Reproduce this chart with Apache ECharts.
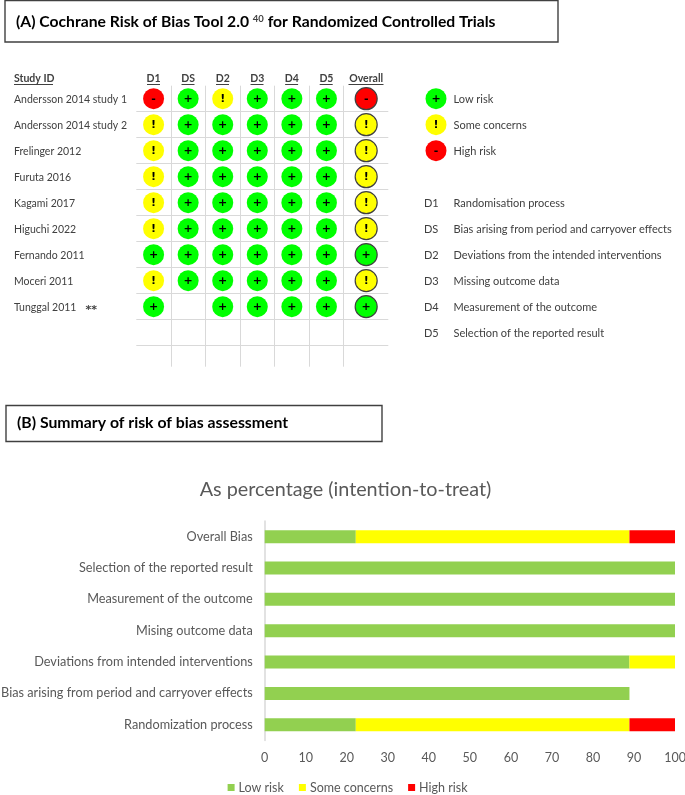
<!DOCTYPE html>
<html><head><meta charset="utf-8">
<style>html,body{margin:0;padding:0;background:#fff}#c{width:685px;height:795px}</style>
<script src="https://cdn.jsdelivr.net/npm/echarts@6/dist/echarts.min.js"></script>
</head><body><div id="c"></div>
<script>
const FONT = 'Lato';
// Panel A: traffic-light table
const studies = ['Andersson 2014 study 1','Andersson 2014 study 2','Frelinger 2012','Furuta 2016','Kagami 2017','Higuchi 2022','Fernando 2011','Moceri 2011','Tunggal 2011'];
const columns = ['D1','DS','D2','D3','D4','D5','Overall'];
const columnPos = [0,1,2,3,4,5,6.15];
const columnEdges = [0.5,1.5,2.5,3.5,4.5,5.5];
const rowEdges = [0.5,1.5,2.5,3.5,4.5,5.5,6.5,7.5,8.5,9.5];
const d1 = ['-','!','!','!','!','!','+','!','+'];
const ds = ['+','+','+','+','+','+','+','+',null];
const d2 = ['!','+','+','+','+','+','+','+','+'];
const d3 = ['+','+','+','+','+','+','+','+','+'];
const d4 = ['+','+','+','+','+','+','+','+','+'];
const d5 = ['+','+','+','+','+','+','+','+','+'];
const overall = ['-','!','!','!','!','!','+','!','+'];
const judgements = [d1,ds,d2,d3,d4,d5,overall];
const riskKey = [['+','Low risk'],['!','Some concerns'],['-','High risk']];
const domainKey = [['D1','Randomisation process'],['DS','Bias arising from period and carryover effects'],['D2','Deviations from the intended interventions'],['D3','Missing outcome data'],['D4','Measurement of the outcome'],['D5','Selection of the reported result']];
const riskColor = {'+':'#00FF00','!':'#FFFF00','-':'#FF0000'};

// Panel B: summary bars
const domains = ['Randomization process','Bias arising from period and carryover effects','Deviations from intended interventions','Mising outcome data','Measurement of the outcome','Selection of the reported result','Overall Bias'];
const lowRisk = [22.2,88.9,88.9,100,100,100,22.2];
const someConcerns = [66.7,0,11.1,0,0,0,66.7];
const highRisk = [11.1,0,0,0,0,0,11.1];

const tableCell = (col,row,j)=>({value:[col,row],judgement:j,itemStyle:{color:riskColor[j],opacity:1}});
const lightLabel = {show:true,position:'inside',color:'#000',fontFamily:'DejaVu Sans',fontWeight:'bold',fontSize:11,
  formatter:p=>p.data.judgement};

const tableSeries = judgements.map((arr,c)=>({
  type:'scatter',name:columns[c],xAxisIndex:0,yAxisIndex:0,animation:false,
  symbol:'circle',symbolSize:c===6?22:21,
  itemStyle:c===6?{borderColor:'#404040',borderWidth:1.2,opacity:1}:{opacity:1},
  label:lightLabel,
  data:arr.map((j,r)=>j?tableCell(columnPos[c],r,j):null).filter(Boolean)
}));

const keySeries = {
  type:'scatter',name:'key',xAxisIndex:1,yAxisIndex:1,animation:false,symbol:'circle',symbolSize:21,
  itemStyle:{opacity:1},
  label:lightLabel,
  data:riskKey.map((k,i)=>tableCell(0,i,k[0]))
};

const barCommon = {type:'bar',stack:'risk',xAxisIndex:2,yAxisIndex:2,barWidth:13,animation:false};

const g = [];
const box = (x,y,w,h)=>g.push({type:'rect',shape:{x,y,width:w,height:h},style:{fill:'#fff',stroke:'#404040',lineWidth:1.4},silent:true});
const txt = (x,y,text,o={})=>g.push({type:'text',x,y,style:Object.assign({text,fontFamily:FONT,fontSize:11,fill:'#404040',verticalAlign:'middle'},o),silent:true});
box(5,0.5,553,41.5);
box(6,405.5,376,36);
txt(16,22,'{b|(A) Cochrane Risk of Bias Tool 2.0 }{s|40}{b| for Randomized Controlled Trials}',{rich:{b:{fontFamily:FONT,fontWeight:'bold',fontSize:15.7,fill:'#000',color:'#000'},s:{fontFamily:FONT,fontWeight:'bold',fontSize:9.5,color:'#000',verticalAlign:'top',padding:[0,0,7,0]}}});
txt(17,423,'(B) Summary of risk of bias assessment',{fontWeight:'bold',fontSize:15.8,fill:'#000'});
txt(14,78.5,'Study ID',{fontWeight:'bold',fontSize:10.5});
g.push({type:'rect',shape:{x:14,y:84,width:39,height:1},style:{fill:'#404040'},silent:true});
const headCx=[153.5,188,222.5,257,291.6,326.2,366], headW=[13,13,13,13,13,13,35];
headCx.forEach((cx,i)=>g.push({type:'rect',shape:{x:cx-headW[i]/2,y:84,width:headW[i],height:1},style:{fill:'#404040'},silent:true}));
domainKey.forEach((k,i)=>{
  txt(424,203.5+26*i,k[0],{fontSize:11});
  txt(453.5,203.5+26*i,k[1],{fontSize:11});
});
riskKey.forEach((k,i)=>txt(453.5,99.2+26*i,k[1],{fontSize:11}));

const option = {
  backgroundColor:'#fff',
  animation:false,
  textStyle:{fontFamily:FONT},
  title:{text:'As percentage (intention-to-treat)',left:340.5,top:475,textAlign:'center',
    textStyle:{fontFamily:FONT,fontWeight:'normal',fontSize:19.8,color:'#595959'}},
  legend:{data:['Low risk','Some concerns','High risk'],left:222.6,top:776,itemWidth:7,itemHeight:7,itemGap:15,
    icon:'rect',textStyle:{fontFamily:FONT,fontSize:12.5,color:'#595959',padding:[0,0,0,-1]}},
  grid:[
    {left:136.3,top:85.7,width:252,height:281,outerBoundsMode:'none'},
    {left:423.5,top:85.7,width:25,height:78,outerBoundsMode:'none'},
    {left:264.7,top:521,width:410.3,height:219.4,outerBoundsMode:'none'}
  ],
  xAxis:[
    {gridIndex:0,type:'value',position:'top',min:-0.5,max:6.79,
      axisLine:{show:false},
      axisTick:{show:false,customValues:columnEdges},
      axisLabel:{customValues:columnPos,margin:2,fontFamily:FONT,fontWeight:'bold',fontSize:10.5,color:'#404040',
        formatter:v=>columns[columnPos.indexOf(v)]||''},
      splitLine:{show:true,lineStyle:{color:'#d9d9d9',width:1}}},
    {gridIndex:1,type:'value',min:-0.5,max:0.5,show:false},
    {gridIndex:2,type:'value',min:0,max:100,interval:10,
      axisLine:{show:false},axisTick:{show:false},splitLine:{show:false},
      axisLabel:{margin:11,fontFamily:FONT,fontSize:12.5,color:'#595959'}}
  ],
  yAxis:[
    {gridIndex:0,type:'value',inverse:true,min:-0.5,max:10.31,
      axisLine:{show:false},
      axisTick:{show:false,customValues:rowEdges},
      axisLabel:{customValues:studies.map((s,i)=>i),align:'left',margin:122.3,fontFamily:FONT,fontSize:10.5,color:'#404040',padding:[2,0,0,0],
        formatter:v=>studies[v]==='Tunggal 2011'?studies[v]+'{st|**}':studies[v],
        rich:{st:{fontFamily:'DejaVu Sans',fontSize:11,fontWeight:'bold',color:'#404040',padding:[5,0,0,9]}}},
      splitLine:{show:true,lineStyle:{color:'#d9d9d9',width:1}}},
    {gridIndex:1,type:'value',inverse:true,min:-0.5,max:2.5,interval:1,show:false},
    {gridIndex:2,type:'category',data:domains,
      axisLine:{show:true,lineStyle:{color:'#d9d9d9',width:1.5}},axisTick:{show:false},
      axisLabel:{margin:12,fontFamily:FONT,fontSize:12.7,color:'#595959',interval:0}}
  ],
  series:[
    ...tableSeries,
    keySeries,
    Object.assign({},barCommon,{name:'Low risk',data:lowRisk,itemStyle:{color:'#92D050'}}),
    Object.assign({},barCommon,{name:'Some concerns',data:someConcerns,itemStyle:{color:'#FFFF00'}}),
    Object.assign({},barCommon,{name:'High risk',data:highRisk,itemStyle:{color:'#FF0000'}})
  ],
  graphic:g
};
echarts.init(document.getElementById('c'),null,{renderer:'canvas'}).setOption(option);
</script></body></html>
